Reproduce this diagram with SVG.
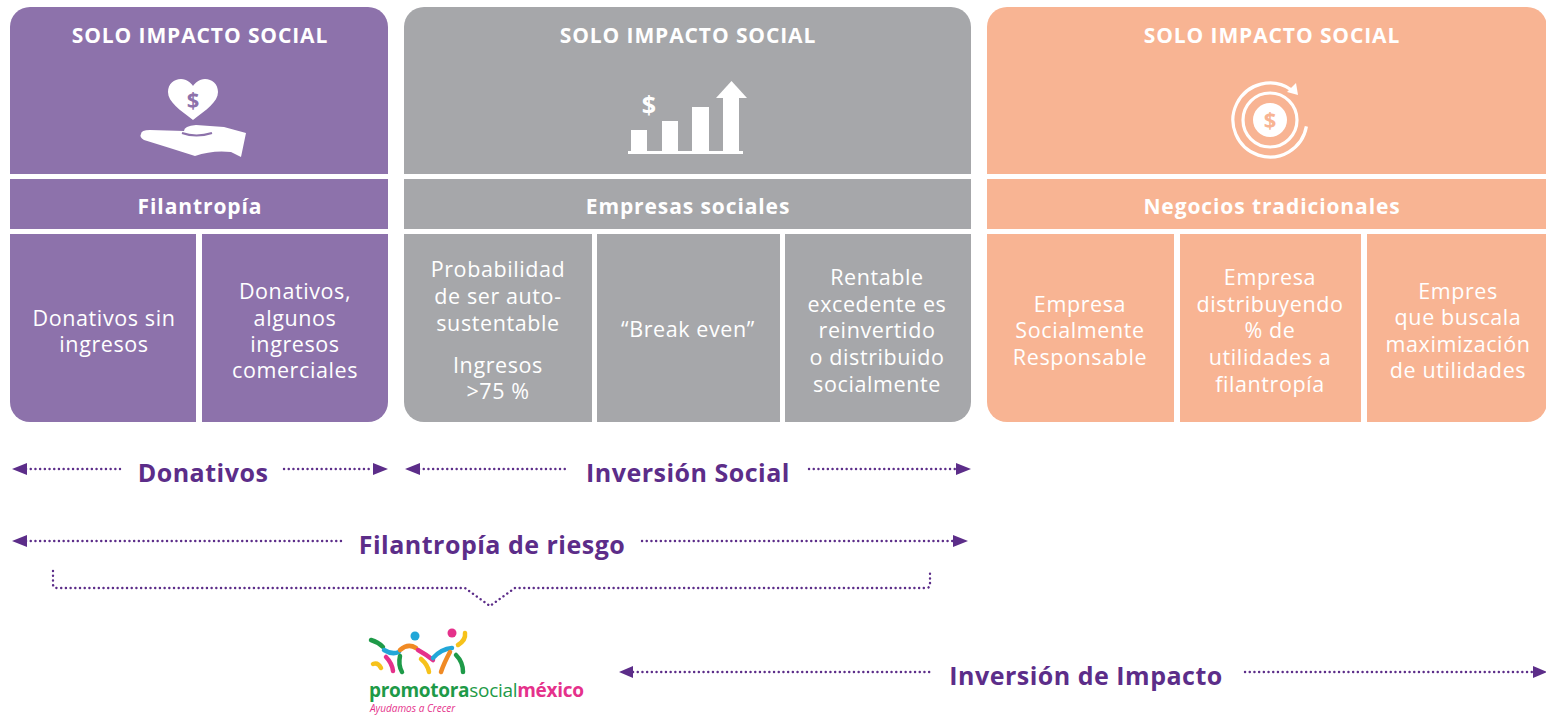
<svg xmlns="http://www.w3.org/2000/svg" width="1546" height="715" viewBox="0 0 1546 715">
<defs>
<style>
.hd{font-family:"Open Sans","Liberation Sans",sans-serif;font-weight:700;font-size:21px;letter-spacing:0.9px;fill:#fff;text-anchor:middle}
.sub{font-family:"Open Sans","Liberation Sans",sans-serif;font-weight:700;font-size:21px;letter-spacing:0.9px;fill:#fff;text-anchor:middle}
.cell{font-family:"Open Sans","Liberation Sans",sans-serif;font-weight:400;font-size:21.5px;letter-spacing:0.6px;fill:#fff;text-anchor:middle}
.lbl{font-family:"Open Sans","Liberation Sans",sans-serif;font-weight:700;font-size:25px;letter-spacing:0.5px;fill:#5C2D89;text-anchor:middle}
.dot{fill:none;stroke:#5C2D89;stroke-width:2.4;stroke-linecap:round;stroke-dasharray:0.1 4.6}
.ah{fill:#5C2D89}
.pu{fill:#8D72AB}
.gr{fill:#A6A7AA}
.or{fill:#F8B493}
.w{fill:#fff}
.lg{fill:none;stroke-width:4.5;stroke-linecap:round}
</style>
<clipPath id="cpP"><rect x="10" y="7" width="378" height="415" rx="20"/></clipPath>
<clipPath id="cpG"><rect x="404" y="7" width="567" height="415" rx="20"/></clipPath>
<clipPath id="cpO"><rect x="987" y="7" width="560" height="415" rx="20"/></clipPath>
</defs>
<rect width="1546" height="715" fill="#fff"/>

<g id="node-filantropia">
<g clip-path="url(#cpP)" class="pu">
<rect x="10" y="7" width="378" height="167"/>
<rect x="10" y="179" width="378" height="50"/>
<rect x="10" y="234" width="186" height="188"/>
<rect x="202" y="234" width="186" height="188"/>
</g>
<text class="hd" x="200" y="43">SOLO IMPACTO SOCIAL</text>
<path class="w" d="M193,120 C180,110 168,102 168,92 C168,84 174,79 181,79 C187,79 191,83 193,86 C195,83 199,79 205,79 C212,79 218,84 218,92 C218,102 206,110 193,120 Z"/>
<text x="193" y="108" font-family="Open Sans,Liberation Sans,sans-serif" font-weight="700" font-size="22" fill="#8D72AB" text-anchor="middle">$</text>
<path class="w" d="M141,134 Q141,130 150,130 L184,131 Q184,126 196,125 L224,127 L246,133 L241,157 L231,152 Q212,150 195,156 Q170,148 144,140 Q139,137 141,134 Z"/>
<path d="M182,133 Q196,138 212,133" fill="none" stroke="#8D72AB" stroke-width="2"/>
<text class="sub" x="200" y="214">Filantropía</text>
<text class="cell" x="104" y="326">Donativos sin</text>
<text class="cell" x="104" y="352">ingresos</text>
<text class="cell" x="295" y="299">Donativos,</text>
<text class="cell" x="295" y="326">algunos</text>
<text class="cell" x="295" y="352">ingresos</text>
<text class="cell" x="295" y="378">comerciales</text>
</g>

<g id="node-empresas-sociales">
<g clip-path="url(#cpG)" class="gr">
<rect x="404" y="7" width="567" height="167"/>
<rect x="404" y="179" width="567" height="50"/>
<rect x="404" y="234" width="188" height="188"/>
<rect x="597" y="234" width="183" height="188"/>
<rect x="785" y="234" width="186" height="188"/>
</g>
<text class="hd" x="688" y="43">SOLO IMPACTO SOCIAL</text>
<g class="w">
<rect x="631" y="130" width="16" height="22"/>
<rect x="662" y="121" width="16" height="31"/>
<rect x="692" y="107" width="17" height="45"/>
<rect x="723" y="98" width="16" height="54"/>
<path d="M716,98 L731.5,81 L747,98 Z"/>
<rect x="628" y="151" width="115" height="3"/>
</g>
<text x="649" y="114" font-family="Open Sans,Liberation Sans,sans-serif" font-weight="700" font-size="25" fill="#fff" text-anchor="middle">$</text>
<text class="sub" x="688" y="214">Empresas sociales</text>
<text class="cell" x="498" y="277">Probabilidad</text>
<text class="cell" x="498" y="304">de ser auto-</text>
<text class="cell" x="498" y="331">sustentable</text>
<text class="cell" x="498" y="373">Ingresos</text>
<text class="cell" x="498" y="399">&gt;75 %</text>
<text class="cell" x="688" y="337">“Break even”</text>
<text class="cell" x="877" y="285">Rentable</text>
<text class="cell" x="877" y="312">excedente es</text>
<text class="cell" x="877" y="338">reinvertido</text>
<text class="cell" x="877" y="365">o distribuido</text>
<text class="cell" x="877" y="392">socialmente</text>
</g>

<g id="node-negocios-tradicionales">
<g clip-path="url(#cpO)" class="or">
<rect x="987" y="7" width="560" height="167"/>
<rect x="987" y="179" width="560" height="50"/>
<rect x="987" y="234" width="187" height="188"/>
<rect x="1180" y="234" width="181" height="188"/>
<rect x="1367" y="234" width="180" height="188"/>
</g>
<text class="hd" x="1272" y="43">SOLO IMPACTO SOCIAL</text>
<circle class="w" cx="1270" cy="120" r="17"/>
<circle cx="1270" cy="120" r="27" fill="none" stroke="#fff" stroke-width="3.2"/>
<path d="M1291.2,89.7 A37,37 0 1 0 1306.4,126.4" fill="none" stroke="#fff" stroke-width="3.2"/>
<path class="w" d="M1296,83 L1298,95 L1287,92 Z"/>
<text x="1270" y="128" font-family="Open Sans,Liberation Sans,sans-serif" font-weight="700" font-size="22" fill="#F8B493" text-anchor="middle">$</text>
<text class="sub" x="1272" y="214">Negocios tradicionales</text>
<text class="cell" x="1080" y="312">Empresa</text>
<text class="cell" x="1080" y="338">Socialmente</text>
<text class="cell" x="1080" y="365">Responsable</text>
<text class="cell" x="1270" y="285">Empresa</text>
<text class="cell" x="1270" y="312">distribuyendo</text>
<text class="cell" x="1270" y="338">% de</text>
<text class="cell" x="1270" y="365">utilidades a</text>
<text class="cell" x="1270" y="392">filantropía</text>
<text class="cell" x="1458" y="299">Empres</text>
<text class="cell" x="1458" y="325">que buscala</text>
<text class="cell" x="1458" y="352">maximización</text>
<text class="cell" x="1458" y="378">de utilidades</text>
</g>

<g id="connectors">
<path class="dot" d="M26,469 H120"/>
<path class="dot" d="M284,469 H373"/>
<path class="ah" d="M12,469 L27,463 L27,475 Z"/>
<path class="ah" d="M388,469 L373,463 L373,475 Z"/>
<path class="dot" d="M419,469 H566"/>
<path class="dot" d="M809,469 H956"/>
<path class="ah" d="M405,469 L420,463 L420,475 Z"/>
<path class="ah" d="M971,469 L956,463 L956,475 Z"/>
<path class="dot" d="M26,541 H343"/>
<path class="dot" d="M642,541 H954"/>
<path class="ah" d="M12,541 L27,535 L27,547 Z"/>
<path class="ah" d="M968,541 L953,535 L953,547 Z"/>
<path class="dot" d="M53,571 V584 Q53,588 57,588 H465 L490,606 L515,588 H926 Q930,588 930,584 V571"/>
<path class="dot" d="M633,672 H932"/>
<path class="dot" d="M1245,672 H1533"/>
<path class="ah" d="M619,672 L633,666 L633,678 Z"/>
<path class="ah" d="M1547,672 L1533,666 L1533,678 Z"/>
</g>

<g id="labels">
<text class="lbl" x="203" y="482">Donativos</text>
<text class="lbl" x="688" y="482">Inversión Social</text>
<text class="lbl" x="492" y="554">Filantropía de riesgo</text>
<text class="lbl" x="1086" y="685">Inversión de Impacto</text>
</g>

<g id="logo">
<path class="lg" stroke="#1E9A48" d="M371,640 Q378,642 383,647"/>
<path class="lg" stroke="#22A7D8" d="M384,650 Q392,655 399,652"/>
<path class="lg" stroke="#F08A24" d="M400,650 Q408,643 416,648"/>
<path class="lg" stroke="#E5318B" d="M418,650 Q427,655 433,660"/>
<path class="lg" stroke="#22A7D8" d="M433,658 Q441,649 452,648"/>
<path class="lg" stroke="#F6C21B" d="M458,645 Q466,640 465,633"/>
<path class="lg" stroke="#F6C21B" d="M373,664 Q378,662 381,668"/>
<path class="lg" stroke="#E5318B" d="M386,657 Q392,663 393,671"/>
<path class="lg" stroke="#1E9A48" d="M400,656 Q398,665 402,672"/>
<path class="lg" stroke="#F6C21B" d="M421,659 Q428,665 429,672"/>
<path class="lg" stroke="#F08A24" d="M450,652 Q444,663 441,672"/>
<path class="lg" stroke="#1E9A48" d="M456,655 Q463,662 463,672"/>
<circle cx="415" cy="636" r="4.5" fill="#22A7D8"/>
<circle cx="452" cy="633" r="4.5" fill="#E5318B"/>
<text x="369" y="697" font-family="Open Sans,Liberation Sans,sans-serif" font-size="19" letter-spacing="-0.3"><tspan fill="#1E9A48" font-weight="700">promotora</tspan><tspan fill="#1E9A48" font-weight="400">social</tspan><tspan fill="#E5318B" font-weight="700">méxico</tspan></text>
<text x="370" y="712" font-family="Open Sans,Liberation Sans,sans-serif" font-style="italic" font-size="10" fill="#E5318B">Ayudamos a Crecer</text>
</g>
</svg>
